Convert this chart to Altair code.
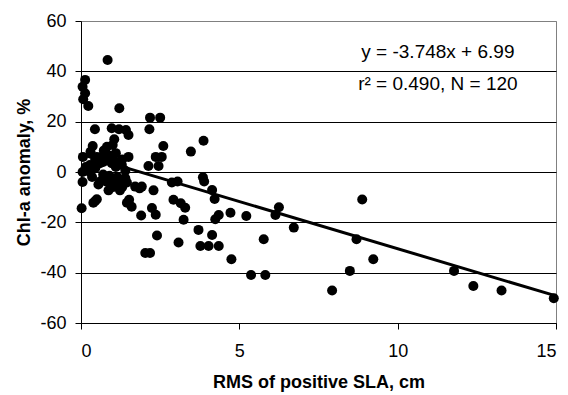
import altair as alt
import pandas as pd

# RMS of positive SLA (cm) and Chl-a anomaly (%) for each of the 120 points
rms_sla = [
    0.84, 0.13, 0.05, 0.13, 0.07, 0.23, 1.21, 2.18, 2.50, 0.44,
    0.97, 1.20, 1.42, 1.50, 2.16, 1.05, 0.37, 0.82, 1.00, 2.60,
    0.06, 0.50, 0.65, 0.81, 1.00, 1.50, 2.36, 2.55, 2.13, 2.45,
    0.28, 0.60, 0.97, 1.29, 0.05, 0.28, 0.05, 0.60, 0.79, 1.02,
    1.29, 1.45, 0.87, 1.23, 1.71, 1.92, 2.29, 2.87, 3.05, 1.45,
    0.39, 0.50, 0.02, 1.52, 1.60, 1.90, 2.24, 2.36, 2.92, 3.15,
    3.24, 3.29, 2.40, 3.08, 2.03, 2.18, 3.47, 3.87, 3.85, 3.89,
    4.14, 4.22, 3.71, 4.14, 3.77, 4.03, 4.35, 4.24, 4.35, 4.72,
    4.75, 5.22, 5.37, 5.82, 5.77, 6.25, 6.14, 6.72, 7.93, 8.49,
    8.70, 8.88, 9.23, 11.78, 12.39, 13.28, 14.93,
    0.70, 0.45, 0.90, 1.10, 0.15, 0.70, 1.15, 1.40, 1.40, 0.35,
    1.10, 0.72, 1.30, 1.10, 1.85, 0.45, 0.55, 1.00, 1.30, 0.45,
    0.90, 1.20, 0.30,
]
chl_anomaly = [
    44.5, 36.6, 33.9, 31.3, 28.9, 26.2, 25.3, 21.6, 21.6, 17.0,
    17.4, 17.0, 16.7, 14.7, 17.0, 13.0, 10.3, 10.0, 10.7, 10.3,
    6.0, 6.0, 6.0, 6.0, 5.0, 6.0, 6.0, 6.0, 2.4, 2.4,
    2.8, 3.5, 3.5, 2.8, 0.0, 0.0, -4.0, -3.8, -3.8, -3.8,
    -3.8, -4.2, -7.3, -7.3, -5.8, -5.8, -7.3, -4.2, -3.8, -12.2,
    -12.2, -10.8, -14.4, -11.0, -13.8, -17.3, -14.3, -17.0, -11.0, -12.4,
    -19.0, -14.2, -25.2, -28.0, -32.2, -32.2, 8.1, 12.4, -2.1, -3.8,
    -7.2, -10.7, -23.0, -25.0, -29.4, -29.4, -29.4, -18.8, -17.1, -16.2,
    -34.7, -17.5, -40.9, -40.9, -26.7, -14.0, -17.1, -22.1, -47.1, -39.3,
    -26.7, -10.9, -34.7, -39.3, -45.3, -47.1, -50.2,
    4.0, 5.0, 6.5, 2.0, 2.0, -1.0, -2.0, 0.5, -2.5, -2.0,
    7.5, 8.5, 5.0, -5.0, -6.5, 1.5, -5.0, -6.0, -6.0, -11.5,
    -1.5, 4.0, 8.0,
]

# Fitted trend line stated in the chart
slope = -3.748
intercept = 6.99
fit_x = [0, 15]

x_ticks = [0, 5, 10, 15]
y_ticks = [-60, -40, -20, 0, 20, 40, 60]

eq_lines = ["y = -3.748x + 6.99", "r² = 0.490, N = 120"]
eq_x = [11.27, 11.27]
eq_y = [47.6, 35.0]

FONT = "Liberation Sans"

pts = pd.DataFrame({"x": rms_sla, "y": chl_anomaly})
fit = pd.DataFrame({"x": fit_x, "y": [slope * v + intercept for v in fit_x]})
ann = pd.DataFrame({"x": eq_x, "y": eq_y, "t": eq_lines})

xscale = alt.Scale(domain=[0, 15], nice=False, zero=False)
yscale = alt.Scale(domain=[-60, 60], nice=False, zero=False)

xaxis = alt.Axis(
    values=x_ticks, grid=False, title="RMS of positive SLA, cm",
    labelExpr="toString(datum.value)",
    domainColor="black", tickColor="black", tickSize=6,
    labelFont=FONT, labelFontSize=18, labelColor="black", labelPadding=13,
    titleFont=FONT, titleFontSize=18, titleFontWeight="bold", titleColor="black",
    titlePadding=13,
)
yaxis = alt.Axis(
    values=y_ticks, title="Chl-a anomaly, %",
    labelExpr="toString(datum.value)",
    grid=True,
    gridColor={"condition": {"test": "datum.value == 60", "value": "#808080"}, "value": "black"},
    gridWidth=1,
    domainColor="black", tickColor="black", tickSize=6,
    labelFont=FONT, labelFontSize=18, labelColor="black", labelPadding=9,
    titleFont=FONT, titleFontSize=18, titleFontWeight="bold", titleColor="black",
    titlePadding=6,
)

points = alt.Chart(pts).mark_circle(color="black", opacity=1, size=100).encode(
    x=alt.X("x:Q", scale=xscale, axis=xaxis),
    y=alt.Y("y:Q", scale=yscale, axis=yaxis),
)

line = alt.Chart(fit).mark_line(color="black", strokeWidth=3).encode(
    x=alt.X("x:Q", scale=xscale),
    y=alt.Y("y:Q", scale=yscale),
)

text = alt.Chart(ann).mark_text(
    font=FONT, fontSize=19, color="black", align="center", baseline="middle"
).encode(
    x=alt.X("x:Q", scale=xscale),
    y=alt.Y("y:Q", scale=yscale),
    text="t:N",
)

chart = alt.layer(points, line, text).properties(
    width=475, height=302,
    autosize=alt.AutoSizeParams(type="none"),
    padding={"left": 73, "top": 13, "right": 4, "bottom": 72},
    background="white",
).configure_view(stroke="#808080", strokeWidth=1)

chart.save("out.html", embed_options={"renderer": "svg", "actions": False})
